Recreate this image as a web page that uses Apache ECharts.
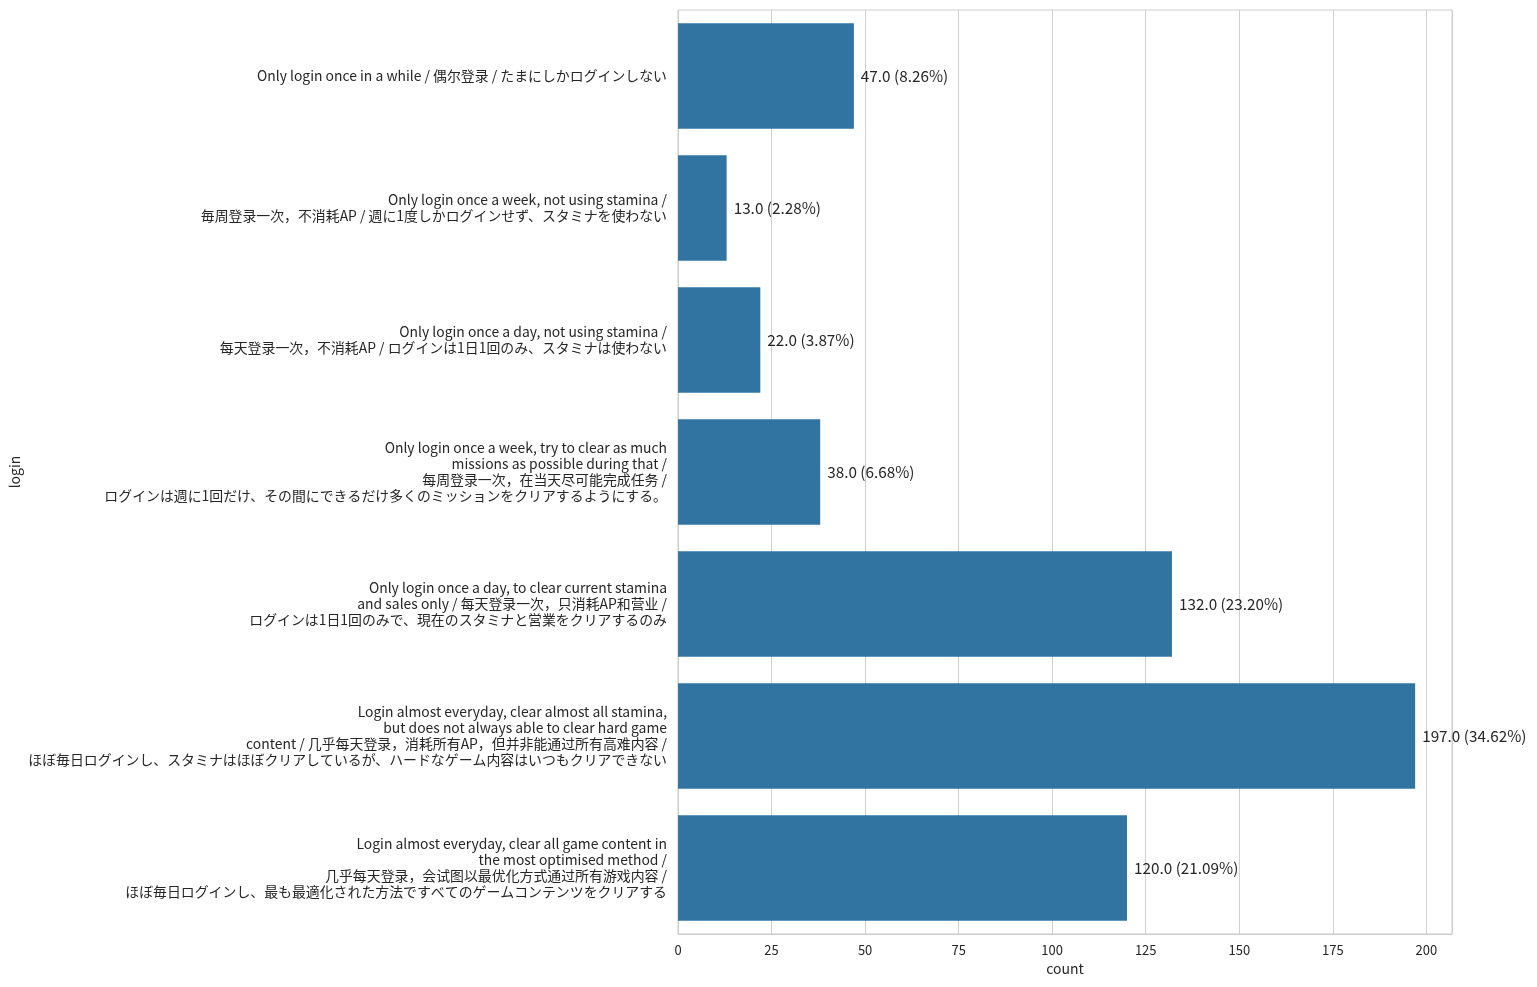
<!DOCTYPE html>
<html><head><meta charset="utf-8">
<script src="https://cdn.jsdelivr.net/npm/echarts@6/dist/echarts.min.js"></script>
<style>html,body{margin:0;padding:0;background:#fff;}#c{width:1537px;height:987px;}</style>
</head><body><div id="c"></div>
<script>
const categories = [
  "Only login once in a while / 偶尔登录 / たまにしかログインしない",
  "Only login once a week, not using stamina /\n毎周登录一次，不消耗AP / 週に1度しかログインせず、スタミナを使わない",
  "Only login once a day, not using stamina /\n每天登录一次，不消耗AP / ログインは1日1回のみ、スタミナは使わない",
  "Only login once a week, try to clear as much\nmissions as possible during that /\n每周登录一次，在当天尽可能完成任务 /\nログインは週に1回だけ、その間にできるだけ多くのミッションをクリアするようにする。",
  "Only login once a day, to clear current stamina\nand sales only / 每天登录一次，只消耗AP和营业 /\nログインは1日1回のみで、現在のスタミナと営業をクリアするのみ",
  "Login almost everyday, clear almost all stamina,\nbut does not always able to clear hard game\ncontent / 几乎每天登录，消耗所有AP，但并非能通过所有高难内容 /\nほぼ毎日ログインし、スタミナはほぼクリアしているが、ハードなゲーム内容はいつもクリアできない",
  "Login almost everyday, clear all game content in\nthe most optimised method /\n几乎每天登录，会试图以最优化方式通过所有游戏内容 /\nほぼ毎日ログインし、最も最適化された方法ですべてのゲームコンテンツをクリアする"
];
const counts = [47, 13, 22, 38, 132, 197, 120];
const total = counts.reduce((a, b) => a + b, 0);
const font = '"Noto Sans CJK JP", "Noto Sans", sans-serif';
const chart = echarts.init(document.getElementById('c'));
chart.setOption({
  animation: false,
  textStyle: { fontFamily: font },
  grid: { left: 678, right: 85, top: 10, bottom: 53, show: true, borderColor: '#cccccc', borderWidth: 1, containLabel: false, outerBoundsMode: 'none' },
  xAxis: {
    type: 'value', min: 0, max: 206.85, interval: 25,
    name: 'count', nameLocation: 'middle', nameGap: 28,
    nameTextStyle: { fontSize: 14, color: '#262626', fontFamily: font },
    axisLine: { show: true, lineStyle: { color: '#cccccc' } },
    axisTick: { show: false },
    axisLabel: { showMaxLabel: false, fontSize: 13, color: '#262626', margin: 10, fontFamily: font },
    splitLine: { show: true, lineStyle: { color: '#d0d0d0', width: 1 } }
  },
  yAxis: {
    type: 'category', data: categories, inverse: true,
    name: 'login', nameLocation: 'middle', nameGap: 656, nameRotate: 90, nameMoveOverlap: false,
    nameTextStyle: { fontSize: 14, color: '#262626', fontFamily: font },
    axisLine: { show: true, lineStyle: { color: '#cccccc' } },
    axisTick: { show: false },
    axisLabel: { fontSize: 13.9, color: '#262626', margin: 11, lineHeight: 16, align: 'right', fontFamily: font },
    splitLine: { show: false }
  },
  series: [{
    type: 'bar', data: counts, barCategoryGap: '20%',
    itemStyle: { color: '#3274a1' },
    label: {
      show: true, position: 'right', distance: 7, fontSize: 15.3, color: '#262626', fontFamily: font,
      formatter: p => p.value.toFixed(1) + ' (' + (p.value / total * 100).toFixed(2) + '%)'
    }
  }]
});
</script></body></html>
